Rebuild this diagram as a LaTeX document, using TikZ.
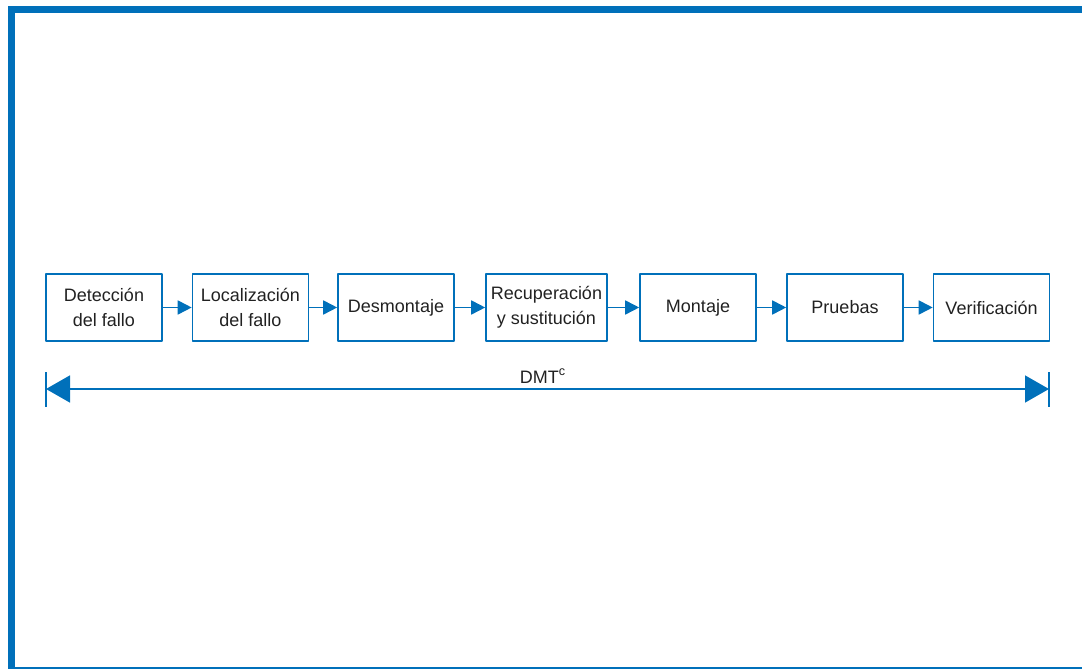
\documentclass[tikz,border=0pt]{standalone}
\usepackage{fontspec}
\setmainfont{Liberation Sans}
\usepackage{tikz}
\usetikzlibrary{arrows.meta,shapes}
\definecolor{frameblue}{rgb}{0.0,0.44,0.73}
\definecolor{txtcol}{rgb}{0.13,0.13,0.13}

\begin{document}
\begin{tikzpicture}[>={Triangle[length=7bp,width=7bp]},line join=bevel,
    box/.style={draw=frameblue,line width=0.8bp,minimum width=58bp,minimum height=33.5bp,
      inner sep=0pt,align=center,text=txtcol,font=\fontsize{9bp}{12.5bp}\selectfont},
    flow/.style={draw=frameblue,line width=0.85bp,->}]
		%%
		\useasboundingbox (0bp,0bp) rectangle (541bp,334.5bp);
		\draw [frameblue,line width=3.5bp,line join=miter] (5.75bp,-3bp) -- (5.75bp,329.75bp) -- (548bp,329.75bp);
		\draw [frameblue,line width=3.5bp] (5.75bp,-0.6bp) -- (548bp,-0.6bp);
		%
		\node (det) at (52.0bp,180.75bp) [box] {Detección\\del fallo};
		  \node (loc) at (125.25bp,180.75bp) [box] {Localización\\del fallo};
		  \node (desm) at (198.0bp,180.75bp) [box] {Desmontaje};
		  \node (recup) at (273.25bp,180.75bp) [box,minimum width=60.5bp] {Recuperación\\y sustitución};
		  \node (mont) at (349.0bp,180.75bp) [box] {Montaje};
		  \node (prue) at (422.5bp,180.75bp) [box] {Pruebas};
		  \node (verif) at (495.75bp,180.75bp) [box] {Verificación};
		  \draw [flow] (det) -- (loc);
		  \draw [flow] (loc) -- (desm);
		  \draw [flow] (desm) -- (recup);
		  \draw [flow] (recup) -- (mont);
		  \draw [flow] (mont) -- (prue);
		  \draw [flow] (prue) -- (verif);
		%
		  \coordinate (dl) at (23.0bp,140.0bp);
		  \coordinate (dr) at (524.5bp,140.0bp);
		  \draw [frameblue,line width=0.8bp] (23.0bp,131.0bp) -- (23.0bp,148.5bp);
		  \draw [frameblue,line width=0.8bp] (524.5bp,131.0bp) -- (524.5bp,148.5bp);
		  \draw [frameblue,line width=0.8bp,{Triangle[length=12bp,width=13.5bp]}-{Triangle[length=12bp,width=13.5bp]}] (dl) -- (dr);
		  \node (dmt) at (271.5bp,146.5bp) [text=txtcol,font=\fontsize{9bp}{11bp}\selectfont] {DMT\textsuperscript{c}};
		%
	\end{tikzpicture}
\end{document}
